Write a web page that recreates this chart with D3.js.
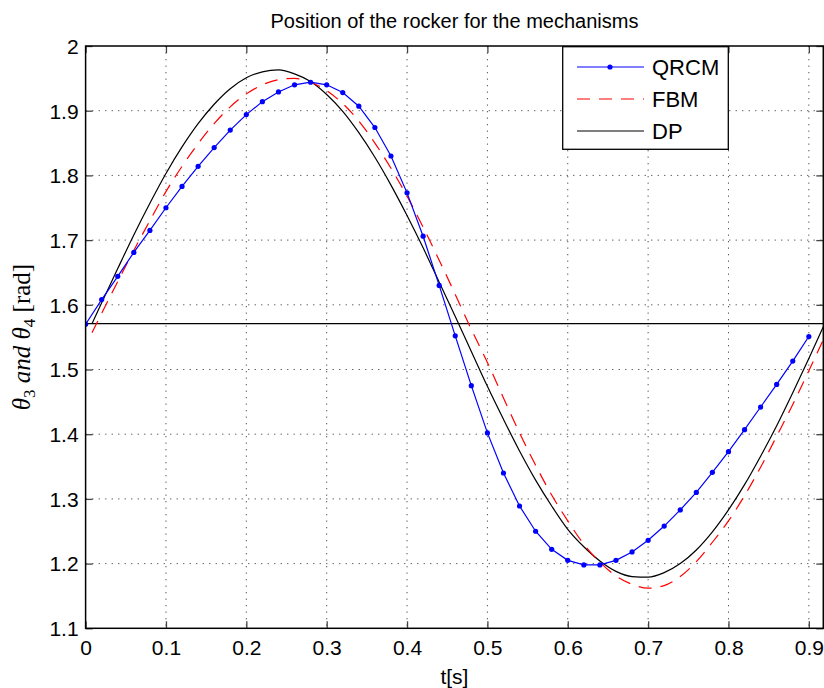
<!DOCTYPE html>
<html>
<head>
<meta charset="utf-8">
<script src="https://cdn.jsdelivr.net/npm/d3@7"></script>
<style>
  body { margin: 0; background: #fff; }
  svg { display: block; }
  .tick text { font-family: "Liberation Sans", Arial, sans-serif; }
</style>
</head>
<body>
<svg id="chart" width="824" height="688"></svg>
<script>
// QRCM samples (every 0.02 s)
const tQrcm = [0, 0.02, 0.04, 0.06, 0.08, 0.10, 0.12, 0.14, 0.16, 0.18, 0.20, 0.22, 0.24, 0.26, 0.28, 0.30,
    0.32, 0.34, 0.36, 0.38, 0.40, 0.42, 0.44, 0.46, 0.48, 0.50, 0.52, 0.54, 0.56, 0.58, 0.60, 0.62,
    0.64, 0.66, 0.68, 0.70, 0.72, 0.74, 0.76, 0.78, 0.80, 0.82, 0.84, 0.86, 0.88, 0.90]
const qrcm = [1.570, 1.608, 1.644, 1.681, 1.715, 1.750, 1.783, 1.814, 1.843, 1.870, 1.894, 1.914, 1.929, 1.940, 1.944, 1.940,
    1.928, 1.907, 1.874, 1.830, 1.773, 1.706, 1.630, 1.552, 1.475, 1.402, 1.340, 1.289, 1.250, 1.222, 1.205, 1.198,
    1.198, 1.205, 1.218, 1.236, 1.258, 1.283, 1.310, 1.341, 1.373, 1.407, 1.442, 1.477, 1.513, 1.551]

// FBM and DP curves
const tCurve = [0.008, 0.02, 0.04, 0.06, 0.08, 0.10, 0.12, 0.14, 0.16, 0.18, 0.20, 0.22, 0.24, 0.26, 0.28, 0.30,
    0.32, 0.34, 0.36, 0.38, 0.40, 0.42, 0.44, 0.46, 0.48, 0.50, 0.52, 0.54, 0.56, 0.58, 0.60, 0.62,
    0.64, 0.66, 0.68, 0.70, 0.72, 0.74, 0.76, 0.78, 0.80, 0.82, 0.84, 0.86, 0.88, 0.90, 0.918]
const fbm = [1.557, 1.587, 1.636, 1.684, 1.730, 1.775, 1.814, 1.849, 1.880, 1.906, 1.926, 1.940, 1.948, 1.950, 1.944, 1.931,
    1.911, 1.884, 1.850, 1.811, 1.768, 1.720, 1.669, 1.616, 1.562, 1.511, 1.456, 1.402, 1.352, 1.306, 1.266, 1.230,
    1.202, 1.181, 1.168, 1.162, 1.166, 1.180, 1.203, 1.233, 1.266, 1.305, 1.349, 1.397, 1.446, 1.498, 1.546]
const dp = [1.571, 1.603, 1.656, 1.708, 1.757, 1.803, 1.844, 1.880, 1.910, 1.934, 1.951, 1.960, 1.963, 1.957, 1.945, 1.925,
    1.899, 1.866, 1.828, 1.785, 1.738, 1.688, 1.635, 1.582, 1.528, 1.474, 1.423, 1.374, 1.329, 1.289, 1.253, 1.226,
    1.204, 1.188, 1.180, 1.179, 1.186, 1.200, 1.221, 1.249, 1.283, 1.322, 1.366, 1.413, 1.464, 1.517, 1.566]

// horizontal reference line (pi/2)
const refLevel = 1.5708

const xTicks = [0, 0.1, 0.2, 0.3, 0.4, 0.5, 0.6, 0.7, 0.8, 0.9]
const yTicks = [1.1, 1.2, 1.3, 1.4, 1.5, 1.6, 1.7, 1.8, 1.9, 2]
const seriesNames = ['QRCM', 'FBM', 'DP']

const pLeft = 85.6, pRight = 823.3, pTop = 46, pBottom = 628.3
const svg = d3.select('#chart')

const x = d3.scaleLinear().domain([0, 0.918]).range([pLeft, pRight])
const y = d3.scaleLinear().domain([1.1, 2]).range([pBottom, pTop])

// grid
const grid = svg.append('g')
    .attr('stroke', '#555')
    .attr('stroke-width', 1)
    .attr('stroke-dasharray', '1.3,5.2')
grid.selectAll('line.gx')
    .data(xTicks.filter(d => d > 0))
    .enter().append('line')
    .attr('x1', d => x(d)).attr('x2', d => x(d))
    .attr('y1', pTop).attr('y2', pBottom)
grid.selectAll('line.gy')
    .data(yTicks.filter(d => d > 1.1 && d < 2))
    .enter().append('line')
    .attr('x1', pLeft).attr('x2', pRight)
    .attr('y1', d => y(d)).attr('y2', d => y(d))

svg.append('clipPath').attr('id', 'clip')
    .append('rect').attr('x', pLeft).attr('y', pTop).attr('width', pRight - pLeft).attr('height', pBottom - pTop)

const plot = svg.append('g').attr('clip-path', 'url(#clip)')

plot.append('line')
    .attr('x1', x(0)).attr('x2', x(0.918))
    .attr('y1', y(refLevel)).attr('y2', y(refLevel))
    .attr('stroke', '#000').attr('stroke-width', 1.2)

const smooth = d3.line().x(d => x(d[0])).y(d => y(d[1])).curve(d3.curveMonotoneX)

plot.append('path')
    .datum(tCurve.map((t, i) => [t, dp[i]]))
    .attr('d', smooth)
    .attr('fill', 'none').attr('stroke', '#000').attr('stroke-width', 1.2)

plot.append('path')
    .datum(tCurve.map((t, i) => [t, fbm[i]]))
    .attr('d', smooth)
    .attr('fill', 'none').attr('stroke', '#ff0000').attr('stroke-width', 1.2)
    .attr('stroke-dasharray', '13,9')

const qrcmData = tQrcm.map((t, i) => [t, qrcm[i]])
plot.append('path')
    .datum(qrcmData)
    .attr('d', d3.line().x(d => x(d[0])).y(d => y(d[1])))
    .attr('fill', 'none').attr('stroke', '#0000ff').attr('stroke-width', 1.2)
plot.selectAll('circle')
    .data(qrcmData)
    .enter().append('circle')
    .attr('cx', d => x(d[0])).attr('cy', d => y(d[1]))
    .attr('r', 2.6).attr('fill', '#0000ff')

// axes with inward ticks on all sides
const tickFont = 21
const axisBottom = svg.append('g').attr('transform', `translate(0,${pBottom})`)
    .call(d3.axisBottom(x).tickValues(xTicks).tickSize(-7).tickPadding(12).tickFormat(d3.format('')))
const axisTop = svg.append('g').attr('transform', `translate(0,${pTop})`)
    .call(d3.axisTop(x).tickValues(xTicks).tickSize(-7).tickFormat(''))
const axisLeft = svg.append('g').attr('transform', `translate(${pLeft},0)`)
    .call(d3.axisLeft(y).tickValues(yTicks).tickSize(-7).tickPadding(7).tickFormat(d3.format('')))
const axisRight = svg.append('g').attr('transform', `translate(${pRight},0)`)
    .call(d3.axisRight(y).tickValues(yTicks).tickSize(-7).tickFormat(''))

;[axisBottom, axisTop, axisLeft, axisRight].forEach(a => {
    a.select('.domain').remove()
    a.selectAll('.tick line').attr('stroke', '#444').attr('stroke-width', 1.3)
    a.selectAll('.tick text').attr('font-size', tickFont).attr('fill', '#000')
})
axisLeft.selectAll('.tick text').attr('dy', '0.35em')

svg.append('rect')
    .attr('x', pLeft).attr('y', pTop).attr('width', pRight - pLeft).attr('height', pBottom - pTop)
    .attr('fill', 'none').attr('stroke', '#000').attr('stroke-width', 1.5)

// title and labels
svg.append('text')
    .attr('x', (pLeft + pRight) / 2).attr('y', 28)
    .attr('text-anchor', 'middle')
    .attr('font-family', '"Liberation Sans", Arial, sans-serif')
    .attr('font-size', 20)
    .text('Position of the rocker for the mechanisms')

svg.append('text')
    .attr('x', (pLeft + pRight) / 2).attr('y', 684)
    .attr('text-anchor', 'middle')
    .attr('font-family', '"Liberation Sans", Arial, sans-serif')
    .attr('font-size', tickFont)
    .text('t[s]')

const ylab = svg.append('text')
    .attr('transform', `translate(30,337) rotate(-90)`)
    .attr('text-anchor', 'middle')
    .attr('font-family', '"Liberation Serif", "DejaVu Serif", serif')
    .attr('font-size', 25)
ylab.append('tspan').attr('font-style', 'italic').text('θ')
ylab.append('tspan').attr('font-size', 17).attr('dy', 5).text('3')
ylab.append('tspan').attr('font-style', 'italic').attr('dy', -5).text(' and θ')
ylab.append('tspan').attr('font-size', 17).attr('dy', 5).text('4')
ylab.append('tspan').attr('dy', -5).text(' [rad]')

// legend
const lg = svg.append('g')
lg.append('rect')
    .attr('x', 562.7).attr('y', 46.7).attr('width', 165.6).attr('height', 102.6)
    .attr('fill', '#fff').attr('stroke', '#000').attr('stroke-width', 1.3)
const legendStyles = [
    { color: '#0000ff', dash: null, marker: true },
    { color: '#ff0000', dash: '13,9', marker: false },
    { color: '#000', dash: null, marker: false }
]
seriesNames.forEach((name, i) => {
    const ly = 67 + i * 32
    const st = legendStyles[i]
    lg.append('line')
        .attr('x1', 577).attr('x2', 644).attr('y1', ly).attr('y2', ly)
        .attr('stroke', st.color).attr('stroke-width', 1.2)
        .attr('stroke-dasharray', st.dash)
    if (st.marker) {
        lg.append('circle').attr('cx', 610).attr('cy', ly).attr('r', 2.6).attr('fill', st.color)
    }
    lg.append('text')
        .attr('x', 652).attr('y', ly).attr('dy', '0.36em')
        .attr('font-family', '"Liberation Sans", Arial, sans-serif')
        .attr('font-size', 22)
        .text(name)
})
</script>
</body>
</html>
